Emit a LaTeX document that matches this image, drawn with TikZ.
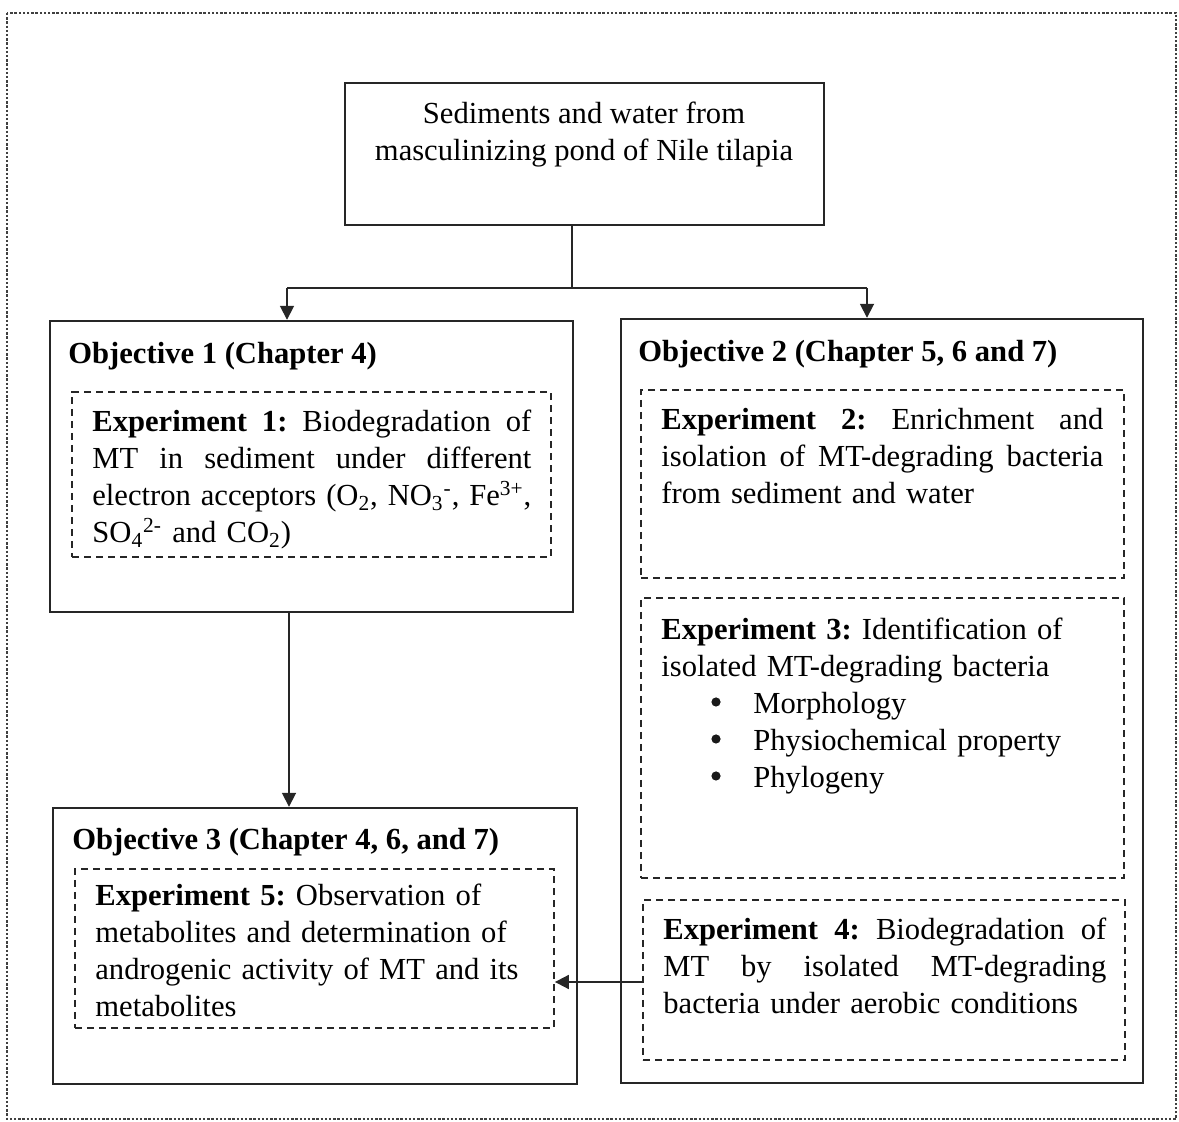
\documentclass[tikz,border=0pt]{standalone}
\usepackage{fontspec}
\setmainfont{Liberation Serif}
\usetikzlibrary{fit,arrows.meta}
\newcommand{\jline}[2]{\makebox[#1][s]{\spaceskip=0pt\xspaceskip=0pt #2}}
\begin{document}
\begin{tikzpicture}[x=0.5pt,y=-0.5pt,
  solidbox/.style={draw=black!85, line width=1.2pt, inner sep=0pt},
  dashbox/.style={draw=black!85, line width=0.9pt, dash pattern=on 3.6pt off 2.4pt, inner sep=0pt},
  txt/.style={inner sep=0pt, anchor=north west, font=\fontsize{15.3}{18.5}\selectfont\frenchspacing},
  ttl/.style={inner sep=0pt, anchor=north west, font=\fontsize{15.3}{18.5}\selectfont\bfseries},
  bul/.style={circle, fill=black!90, inner sep=0pt, minimum size=4.6pt},
  arr/.style={draw=black!85, line width=0.9pt, -{Triangle[length=7pt,width=7pt]}},
  ln/.style={draw=black!85, line width=0.9pt}]
\useasboundingbox (0,0) rectangle (1179,1122);
% outer dotted frame
\draw[black!75, line width=1.3pt, dash pattern=on 1.2pt off 0.9pt] (7,13) rectangle (1176,1119);

% boxes
\node[solidbox, fit={(345,83)(824,225)}] (src) {};
\node[solidbox, fit={(50,321)(573,612)}] (obj1) {};
\node[solidbox, fit={(621,319)(1143,1083)}] (obj2) {};
\node[solidbox, fit={(53,808)(577,1084)}] (obj3) {};
\node[dashbox, fit={(72,392)(551,557)}] (exp1) {};
\node[dashbox, fit={(641,390)(1124,578)}] (exp2) {};
\node[dashbox, fit={(641,598)(1124,878)}] (exp3) {};
\node[dashbox, fit={(643,900)(1125,1060)}] (exp4) {};
\node[dashbox, fit={(75,869)(554,1028)}] (exp5) {};

% texts
\node[inner sep=0pt, anchor=north, align=center, font=\fontsize{15.3}{18.5}\selectfont] (srct) at (584,102)
  {Sediments and water from\\masculinizing pond of Nile tilapia};
\node[ttl] (obj1t) at (68,342) {Objective 1 (Chapter 4)};
\node[ttl] (obj2t) at (638,340) {Objective 2 (Chapter 5, 6 and 7)};
\node[ttl] (obj3t) at (72,828) {Objective 3 (Chapter 4, 6, and 7)};

\node[txt, text width=219.5pt] (exp1t) at (92,410) {%
  \jline{219.5pt}{\textbf{Experiment 1:} Biodegradation of}\\
  \jline{219.5pt}{MT in sediment under different}\\
  \jline{219.5pt}{electron acceptors (O\textsubscript{2}, NO\textsubscript{3}\textsuperscript{-}, Fe\textsuperscript{3+},}\\
  SO\textsubscript{4}\textsuperscript{2-} and CO\textsubscript{2})};

\node[txt, text width=221pt] (exp2t) at (661,408) {%
  \jline{221pt}{\textbf{Experiment 2:} Enrichment and}\\
  \jline{221pt}{isolation of MT-degrading bacteria}\\
  from sediment and water};

\node[txt, text width=225pt] (exp3t) at (661,618) {%
  \textbf{Experiment 3:} Identification of\\
  isolated MT-degrading bacteria\\
  \hspace*{46pt}Morphology\\
  \hspace*{46pt}Physiochemical property\\
  \hspace*{46pt}Phylogeny};
\node[bul] (b1) at (716,702) {};
\node[bul] (b2) at (716,739) {};
\node[bul] (b3) at (716,776) {};

\node[txt, text width=221.5pt] (exp4t) at (663,918) {%
  \jline{221.5pt}{\textbf{Experiment 4:} Biodegradation of}\\
  \jline{221.5pt}{MT by isolated MT-degrading}\\
  bacteria under aerobic conditions};

\node[txt, text width=225pt] (exp5t) at (95,884) {%
  \textbf{Experiment 5:} Observation of\\
  metabolites and determination of\\
  androgenic activity of MT and its\\
  metabolites};

% connectors
\coordinate (j) at (572,288);
\coordinate (jl) at (287,288);
\coordinate (jr) at (867,288);
\coordinate (c1) at (289,0);
\coordinate (c2) at (0,982);
\draw[ln] (src.south -| j) -- (j);
\draw[ln] (jl) -- (jr);
\draw[arr] (jl) -- (jl |- obj1.north);
\draw[arr] (jr) -- (jr |- obj2.north);
\draw[arr] (obj1.south -| c1) -- (obj3.north -| c1);
\draw[arr] (exp4.west |- c2) -- (exp5.east |- c2);
\end{tikzpicture}
\end{document}
